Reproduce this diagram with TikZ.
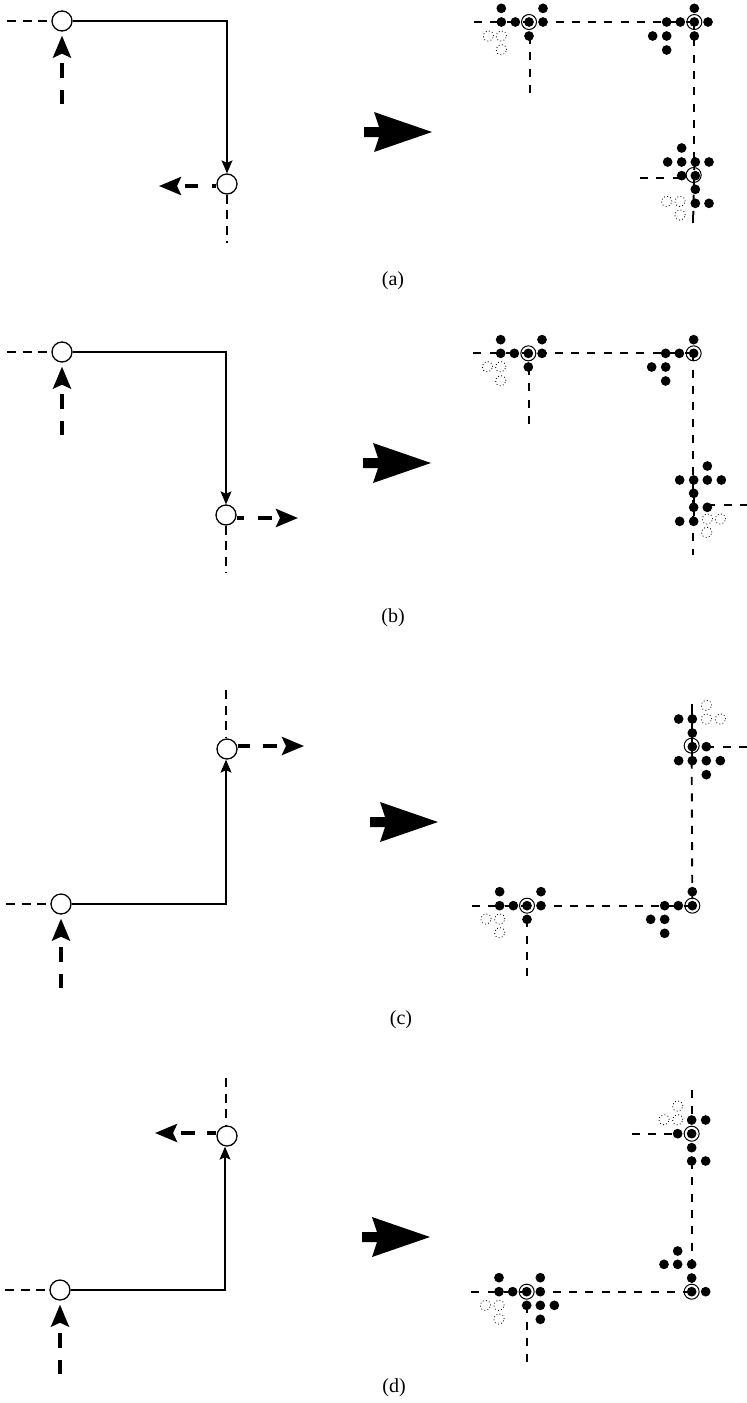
\documentclass[tikz,border=0pt]{standalone}
\usepackage{fontspec}
\setmainfont{Liberation Serif}
\usetikzlibrary{arrows.meta}
\tikzset{
  x=1pt,y=-1pt,
  bead/.style={circle,fill=black,inner sep=0pt,minimum size=9.7pt},
  ghost/.style={circle,draw=black,line width=.8pt,dash pattern=on .9pt off 2.4pt,inner sep=0pt,minimum size=10.5pt},
  ring/.style={circle,draw=black,line width=1pt,fill=none,inner sep=0pt,minimum size=15pt},
  thinDash/.style={line width=1.2pt,dash pattern=on 9pt off 6.5pt},
  wideDash/.style={line width=1.9pt,dash pattern=on 8pt off 8.3pt},
  heavyUp/.style={line width=3.6pt,dash pattern=on 14.5pt off 12pt,shorten >=4pt},
  heavySide/.style={line width=4pt},
  wire/.style={line width=1.3pt},
  site/.style={circle,draw=black,line width=1.3pt,fill=white,inner sep=0pt,minimum size=20pt},
  caption/.style={font=\fontsize{20}{22}\selectfont},
  fatTip/.tip={Stealth[length=22pt,width=18pt,inset=4pt]},
  smallTip/.tip={Stealth[length=13pt,width=11pt,inset=2.5pt]},
  bigArrow/.style={fill=black,draw=none}
}
\newcommand{\zoomed}[3]{\begin{scope}[shift={(#1,#2)},x=.33333pt,y=-.33333pt]#3\end{scope}}
\newcommand{\beads}[2]{\foreach \p [count=\i] in {#2} {\node[bead] (#1\i) at \p {};}}
\newcommand{\ghosts}[2]{\foreach \p [count=\i] in {#2} {\node[ghost] (#1\i) at \p {};}}
\newcommand{\bigarrow}[2]{\fill[bigArrow,shift={(#1,#2)}] (0,-5) -- (15,-5) -- (10,-20) -- (68,0) -- (10,20) -- (15,5) -- (0,5) -- cycle;}
\begin{document}
\begin{tikzpicture}
\path[use as bounding box] (0,0) rectangle (747,1403);
% ---------- left schematics
% (a)
\node[site] (a1) at (62,21) {};
\node[site] (a2) at (227,184) {};
\coordinate (a0) at (7,21);
\coordinate (ac) at (227,21);
\coordinate (au) at (62,104);
\coordinate (al) at (159,186);
\coordinate (ad) at (227,243);
\draw[thinDash] (a0) -- (a1);
\draw[wire,-{smallTip}] (a1) -- (ac) -- (a2);
\draw[heavyUp,-{fatTip}] (au) -- (a1);
\draw[heavySide,dash pattern=on 13pt off 14pt,dash phase=9pt,-{fatTip}] (a2.west|-al) -- (al);
\draw[thinDash] (a2) -- (ad);
% (b)
\node[site] (b1) at (62,352) {};
\node[site] (b2) at (226,515) {};
\coordinate (b0) at (7,352);
\coordinate (bc) at (226,352);
\coordinate (bu) at (62,435);
\coordinate (br) at (298,518);
\coordinate (bd) at (226,573);
\draw[thinDash] (b0) -- (b1);
\draw[wire,-{smallTip}] (b1) -- (bc) -- (b2);
\draw[heavyUp,-{fatTip}] (bu) -- (b1);
\draw[heavySide,dash pattern=on 14pt off 14pt,dash phase=7pt,-{fatTip}] (b2.east|-br) -- (br);
\draw[thinDash] (b2) -- (bd);
% (c)
\node[site] (c1) at (61,904) {};
\node[site] (c2) at (227,749) {};
\coordinate (c0) at (6,904);
\coordinate (cc) at (226,904);
\coordinate (cu) at (61,988);
\coordinate (cr) at (304,746);
\coordinate (ct) at (226,690);
\draw[thinDash] (c0) -- (c1);
\draw[wire,-{smallTip}] (c1) -- (cc) -- (cc|-c2.south);
\draw[heavyUp,-{fatTip}] (cu) -- (c1);
\draw[heavySide,dash pattern=on 14pt off 13pt,dash phase=2pt,-{fatTip}] (c2.east|-cr) -- (cr);
\draw[thinDash] (ct) -- (ct|-c2.north);
% (d)
\node[site] (d1) at (60,1290) {};
\node[site] (d2) at (227,1136) {};
\coordinate (d0) at (5,1290);
\coordinate (dc) at (225,1290);
\coordinate (du) at (60,1374);
\coordinate (dl) at (155,1133);
\coordinate (dt) at (226,1078);
\draw[thinDash] (d0) -- (d1);
\draw[wire,-{smallTip}] (d1) -- (dc) -- (dc|-d2.south);
\draw[heavyUp,-{fatTip}] (du) -- (d1);
\draw[heavySide,dash pattern=on 14pt off 12pt,dash phase=5pt,-{fatTip}] (d2.west|-dl) -- (dl);
\draw[thinDash] (dt) -- (dt|-d2.north);
% ---------- big arrows
\bigarrow{364}{132}
\bigarrow{363}{463}
\bigarrow{370}{822}
\bigarrow{362}{1237}
% ---------- captions
\node[caption] (la) at (393,280.5) {(a)};
\node[caption] (lb) at (393,617.5) {(b)};
\node[caption] (lc) at (401,1019.5) {(c)};
\node[caption] (ld) at (394,1387.5) {(d)};
% ---------- right lattices
\zoomed{460}{0}{
  \coordinate (p) at (42,66); \coordinate (q) at (703,66);
  \coordinate (r) at (703,486); \coordinate (s) at (211,108); \coordinate (t) at (211,285);
  \coordinate (u) at (540,533); \coordinate (v) at (665,533); \coordinate (w) at (700,645); \coordinate (y) at (700,672);
  \draw[wideDash] (p) -- (q);
  \draw[wideDash] (q) -- (r);
  \draw[wideDash] (s) -- (t);
  \draw[wideDash] (u) -- (v);
  \draw[wideDash] (r) -- (w);
  \draw[wideDash] (w) -- (y);
  \beads{ea}{(124,25),(249,25),(124,66),(166,66),(207,66),(249,66),(207,108),
   (703,25),(620,66),(661,66),(703,66),(744,66),(578,108),(620,108),(703,108),(620,150),
   (665,444),(623,486),(665,486),(706,486),(747,486),(665,527),(706,527),(706,568),(706,610),(747,610)}
  \ghosts{ga}{(85,108),(124,108),(124,149),(620,604),(660,604),(660,645)}
  \node[ring] (ra1) at (207,66) {}; \node[ring] (ra2) at (703,66) {}; \node[ring] (ra3) at (701,525) {};
}
\zoomed{460}{330}{
  \coordinate (p) at (40,70); \coordinate (q) at (698,70);
  \coordinate (r) at (698,675); \coordinate (s) at (208,111); \coordinate (t) at (208,290);
  \coordinate (u) at (742,525); \coordinate (v) at (861,525);
  \draw[wideDash] (p) -- (q);
  \draw[wideDash] (q) -- (r);
  \draw[wideDash] (s) -- (t);
  \draw[wideDash] (u) -- (v);
  \beads{eb}{(122,29),(246,29),(122,70),(163,70),(205,70),(246,70),(205,111),
   (701,29),(617,70),(658,70),(701,70),(575,111),(617,111),(617,153),
   (742,408),(659,450),(701,450),(742,450),(784,450),(701,490),(701,532),(742,532),(659,574),(701,574)}
  \draw[line width=1.9pt] (eb20) -- (eb24);
  \ghosts{gb}{(82,110),(122,110),(122,152),(742,567),(781,567),(740,607)}
  \node[ring] (rb1) at (205,70) {}; \node[ring] (rb2) at (701,70) {};
}
\zoomed{460}{690}{
  \coordinate (p) at (36,647); \coordinate (q) at (697,647);
  \coordinate (r) at (695,212); \coordinate (s) at (201,688); \coordinate (t) at (201,865);
  \coordinate (u) at (739,170); \coordinate (v) at (861,170); \coordinate (w) at (697,42);
  \draw[wideDash] (p) -- (q);
  \draw[wideDash] (r) -- (q);
  \draw[wideDash] (s) -- (t);
  \draw[wideDash] (u) -- (v);
  \beads{ec}{(656,87),(697,87),(697,129),(697,170),(739,170),(656,212),(697,212),(739,212),(781,212),(739,254),
   (697,605),(697,647),(655,647),(614,647),(572,688),(614,688),(614,730),
   (119,605),(243,605),(119,647),(160,647),(201,647),(243,647),(201,688)}
  \draw[line width=1.9pt] (w) -- (ec7);
  \ghosts{gc}{(739,46),(739,87),(781,87),(78,687),(119,687),(119,728)}
  \node[ring] (rc1) at (695,167) {}; \node[ring] (rc2) at (697,647) {}; \node[ring] (rc3) at (201,647) {};
}
\zoomed{460}{1080}{
  \coordinate (p) at (34,635); \coordinate (q) at (695,635);
  \coordinate (r) at (695,243); \coordinate (s) at (200,676); \coordinate (t) at (200,852);
  \coordinate (u) at (515,161); \coordinate (v) at (653,161); \coordinate (w) at (695,30); \coordinate (y) at (695,120);
  \draw[wideDash] (p) -- (q);
  \draw[wideDash] (r) -- (q);
  \draw[wideDash] (s) -- (t);
  \draw[wideDash] (u) -- (v);
  \draw[wideDash] (w) -- (y);
  \beads{ed}{(695,120),(737,120),(653,161),(695,161),(695,203),(695,243),(737,243),
   (653,513),(612,553),(653,553),(695,553),(695,594),(695,635),(737,635),
   (117,593),(241,593),(117,635),(158,635),(200,635),(241,635),(200,676),(241,676),(283,676),(241,718)}
  \ghosts{gd}{(653,78),(612,119),(653,119),(76,676),(117,676),(117,717)}
  \node[ring] (rd1) at (695,161) {}; \node[ring] (rd2) at (695,635) {}; \node[ring] (rd3) at (200,635) {};
}
\end{tikzpicture}
\end{document}
